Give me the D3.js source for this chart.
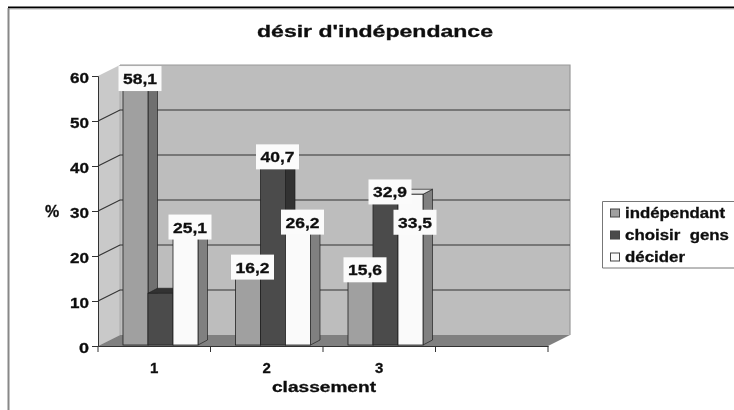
<!DOCTYPE html>
<html><head><meta charset="utf-8">
<script src="https://cdnjs.cloudflare.com/ajax/libs/d3/7.8.5/d3.min.js"></script>
<style>html,body{margin:0;padding:0;background:#fff}svg{display:block}
text{font-family:"Liberation Sans",Arial,sans-serif;fill:#111;stroke:#111;stroke-width:.3px}</style></head><body>
<svg id="c" width="734" height="410"></svg>
<script>
const categories = ["1","2","3",""];
const seriesNames = ["indépendant","choisir  gens","décider"];
const independant = [58.1,16.2,15.6];
const choisirGens = [11.5,40.7,32.9];
const decider = [25.1,26.2,33.5];
const shownLabels = [["58,1","16,2","15,6"],[null,"40,7","32,9"],["25,1","26,2","33,5"]];
const yTicks = [0,10,20,30,40,50,60];
const titleText = "désir d'indépendance", xTitle = "classement", yTitle = "%";
const fronts = ["#a0a0a0","#4c4c4c","#fafafa"], sides = ["#707070","#303030","#808080"], tops=["#8a8a8a","#333333","#e8e8e8"];

const seriesValues=[independant,choisirGens,decider];
const svg=d3.select("#c");
const defs=svg.append("defs");
defs.append("filter").attr("id","soft").attr("x","-5%").attr("y","-5%").attr("width","110%").attr("height","110%")
  .append("feGaussianBlur").attr("stdDeviation",0.6);
const g=svg.append("g").attr("filter","url(#soft)");

g.append("rect").attr("x",0).attr("y",0).attr("width",734).attr("height",410).attr("fill","#fff");
// outer frame
g.append("line").attr("x1",8).attr("x2",734).attr("y1",7.5).attr("y2",7.5).attr("stroke","#000").attr("stroke-width",1.8);
g.append("line").attr("x1",8).attr("x2",734).attr("y1",9).attr("y2",9).attr("stroke","#bbb").attr("stroke-width",1);
g.append("line").attr("x1",8.5).attr("x2",8.5).attr("y1",8).attr("y2",410).attr("stroke","#888").attr("stroke-width",2);

const y=d3.scaleLinear().domain([0,60]).range([346,76]);
const x=d3.scaleBand().domain(categories).range([98,548]);
const x1=d3.scaleBand().domain(d3.range(3)).range([0,75]);
const wallDx=22, wallDy=11, barDx=9.5, barDy=5;
const poly=(sel,pts,fill,stroke,sw)=>sel.append("path").attr("d","M"+pts.map(p=>p.join(",")).join("L")+"Z")
  .attr("fill",fill).attr("stroke",stroke||"none").attr("stroke-width",sw||0);

const x0=x.range()[0], xN=x.range()[1], y0=y(0), yT=y(60);
// walls and floor
poly(g,[[x0,y0],[x0+wallDx,y0-wallDy],[x0+wallDx,yT-wallDy],[x0,yT]],"#c9c9c9");
poly(g,[[x0+wallDx,y0-wallDy],[xN+wallDx,y0-wallDy],[xN+wallDx,yT-wallDy],[x0+wallDx,yT-wallDy]],"#bdbdbd");
g.append("path").attr("d",`M${x0+wallDx},${yT-wallDy}H${xN+wallDx}V${y0-wallDy}`).attr("fill","none").attr("stroke","#999").attr("stroke-width",1.2);
g.append("line").attr("x1",x0+wallDx).attr("x2",x0+wallDx).attr("y1",yT-wallDy).attr("y2",y0-wallDy).attr("stroke","#aaa");
poly(g,[[x0,y0],[xN,y0],[xN+wallDx,y0-wallDy],[x0+wallDx,y0-wallDy]],"#808080");
// gridlines
yTicks.filter(t=>t>0&&t<60).forEach(t=>{
  g.append("path").attr("d",`M${x0},${y(t)}L${x0+wallDx},${y(t)-wallDy}H${xN+wallDx}`)
   .attr("fill","none").attr("stroke","#333").attr("stroke-width",1.2);
});
// axes
const yAxis=g.append("g").attr("transform",`translate(${x0},0)`).call(d3.axisLeft(y).tickValues(yTicks).tickSize(6).tickPadding(3));
const xAxis=g.append("g").attr("transform",`translate(0,${y0})`).call(d3.axisBottom(x).tickValues([]).tickSizeOuter(0));
xAxis.select(".domain").attr("stroke","#333");
yAxis.select(".domain").attr("stroke","#333");
yAxis.selectAll("line").attr("stroke","#333");
yAxis.selectAll("text").attr("font-size",15).attr("font-weight","bold").attr("dy","0.42em").attr("textLength",19).attr("lengthAdjust","spacingAndGlyphs");
yAxis.selectAll(".tick").filter(d=>d===0).select("text").attr("textLength",10);
[...categories.map(c=>x(c)),xN].forEach(px=>{
  g.append("line").attr("x1",px).attr("x2",px).attr("y1",y0).attr("y2",y0+6).attr("stroke","#333");
});
categories.filter(c=>c).forEach(c=>{
  g.append("text").attr("x",x(c)+x.bandwidth()/2).attr("y",373).attr("text-anchor","middle")
   .attr("font-size",15).attr("font-weight","bold").text(c);
});
// bars
const base=y0-1, barOff=25;
categories.filter(c=>c).forEach((c,ci)=>{
  seriesValues.forEach((vals,si)=>{
    const l=x(c)+barOff+x1(si), w=x1.bandwidth(), r=l+w, t=y(vals[ci])-1;
    const bg=g.append("g");
    poly(bg,[[r,base],[r+barDx,base-barDy],[r+barDx,t-barDy],[r,t]],(si===1&&ci===0)?"#555":sides[si],"#222",.7);
    poly(bg,[[l,t],[r,t],[r+barDx,t-barDy],[l+barDx,t-barDy]],tops[si],"#222",.7);
    bg.append("rect").attr("x",l).attr("y",t).attr("width",w).attr("height",base-t).attr("fill",fronts[si]).attr("stroke","#222").attr("stroke-width",.8);
  });
});
// value labels: white boxes above each bar; the last one was dragged down the bar in the original
const boxW=43, boxH=25;
categories.filter(c=>c).forEach((c,ci)=>{
  seriesValues.forEach((vals,si)=>{
    const txt=shownLabels[si][ci]; if(!txt) return;
    const moved=(ci===2&&si===2)?33:0;
    const cx=x(c)+barOff+x1(si)+x1.bandwidth()/2+4.5, cy=y(vals[ci])-1-5+moved;
    g.append("rect").attr("x",cx-boxW/2).attr("y",cy-boxH/2).attr("width",boxW).attr("height",boxH).attr("fill","#fbfbfb");
    g.append("text").attr("x",cx).attr("y",cy+5.5).attr("text-anchor","middle").attr("font-size",15).attr("font-weight","bold")
      .attr("textLength",34).attr("lengthAdjust","spacingAndGlyphs").text(txt);
  });
});
// titles
g.append("text").attr("x",375).attr("y",37).attr("text-anchor","middle").attr("font-size",16).attr("font-weight","bold")
  .attr("textLength",236).attr("lengthAdjust","spacingAndGlyphs").text(titleText);
g.append("text").attr("x",324).attr("y",392).attr("text-anchor","middle").attr("font-size",14).attr("font-weight","bold")
  .attr("textLength",104).attr("lengthAdjust","spacingAndGlyphs").text(xTitle);
g.append("text").attr("x",52).attr("y",217).attr("text-anchor","middle").attr("font-size",16).attr("font-weight","bold").text(yTitle);
// legend
g.append("path").attr("d","M734,201.5H602.5V268H734").attr("fill","none").attr("stroke","#777").attr("stroke-width",1);
const legendW=[100,104,60], legendY=[213,235,257];
seriesNames.forEach((n,i)=>{
  g.append("rect").attr("x",610.5).attr("y",legendY[i]-4).attr("width",9).attr("height",8).attr("fill",fronts[i]).attr("stroke","#444");
  g.append("text").attr("x",625).attr("y",legendY[i]+5).attr("font-size",15).attr("font-weight","bold").style("white-space","pre")
   .attr("textLength",legendW[i]).attr("lengthAdjust","spacingAndGlyphs").text(n);
});
</script></body></html>
